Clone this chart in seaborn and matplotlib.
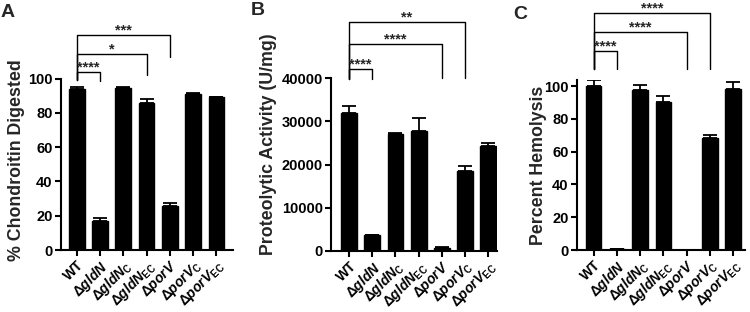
import matplotlib
matplotlib.use("Agg")
import matplotlib.pyplot as plt
import seaborn as sns
import pandas as pd
import numpy as np

# ---------------- data ----------------
strains = ["WT", "dgldN", "dgldN_C", "dgldN_EC", "dporV", "dporV_C", "dporV_EC"]
tick_labels = ["WT",
               r"Δ$\mathit{gldN}$",
               r"Δ$\mathit{gldN}_{\mathrm{C}}$",
               r"Δ$\mathit{gldN}_{\mathrm{EC}}$",
               r"Δ$\mathit{porV}$",
               r"Δ$\mathit{porV}_{\mathrm{C}}$",
               r"Δ$\mathit{porV}_{\mathrm{EC}}$"]

chondroitin = [94, 17, 94.5, 86, 25.5, 91, 89]
chondroitin_err = [0.8, 1.6, 0.3, 2.0, 2.0, 0.3, 0.3]

proteolytic = [31800, 3600, 27100, 27700, 700, 18400, 24300]
proteolytic_err = [1800, 150, 200, 3100, 150, 1300, 700]

hemolysis = [100, 0.6, 97.5, 90.3, 0.2, 68.5, 98.5]
hemolysis_err = [4, 0.3, 3, 3.5, 0.1, 1.5, 4.2]

# significance annotations: (start, end, label, line height, left-leg bottom, right-leg bottom)
sig_A = [(0, 1, "****", 103.6, 99, 98.7),
         (0, 3, "*", 114.3, 99, 102),
         (0, 4, "***", 125.4, 99, 112.4)]
sig_B = [(0, 1, "****", 42080, 39800, 39800),
         (0, 4, "****", 47790, 39800, 39900),
         (0, 5, "**", 52880, 39800, 39900)]
sig_C = [(0, 1, "****", 121.5, 110.2, 110.2),
         (0, 4, "****", 132.7, 110.2, 110.2),
         (0, 5, "****", 144.3, 110.2, 110.2)]

# ---------------- style ----------------
sns.set_theme(style="ticks")
plt.rcParams["font.family"] = ["Liberation Sans", "DejaVu Sans"]
plt.rcParams["font.weight"] = "bold"
plt.rcParams["mathtext.fontset"] = "custom"
plt.rcParams["mathtext.rm"] = "Liberation Sans:bold"
plt.rcParams["mathtext.it"] = "Liberation Sans:italic:bold"
plt.rcParams["mathtext.bf"] = "Liberation Sans:bold"

fig = plt.figure(figsize=(7.5, 3.12), dpi=100)
W, H = 750, 312


def rect(l, r, top, bottom):
    return [l / W, (H - bottom) / H, (r - l) / W, (bottom - top) / H]


def panel(pos, values, errs, ylim, yticks, xlim, ylabel, lab_xy, sig):
    ax = fig.add_axes(rect(*pos))
    df = pd.DataFrame({"strain": strains, "value": values})
    sns.barplot(data=df, x="strain", y="value", color="black", width=0.68,
                saturation=1, errorbar=None, ax=ax, edgecolor="black")
    x = np.arange(len(values))
    ax.errorbar(x, values, yerr=[np.zeros(len(errs)), errs], fmt="none",
                ecolor="black", elinewidth=1.3, capsize=5, capthick=1.3)
    ax.set_ylim(*ylim)
    ax.set_xlim(*xlim)
    ax.set_yticks(yticks)
    ax.set_yticklabels([str(t) for t in yticks], fontsize=10.5, fontweight="bold")
    ax.set_xticks(x)
    ax.set_xticklabels(tick_labels, rotation=45, ha="right",
                       rotation_mode="anchor", fontsize=10, fontweight="bold")
    ax.set_xlabel("")
    ax.set_ylabel(ylabel, fontsize=12.8, fontweight="bold")
    ax.yaxis.set_label_coords(*lab_xy)
    for s in ["top", "right"]:
        ax.spines[s].set_visible(False)
    for s in ["left", "bottom"]:
        ax.spines[s].set_linewidth(1.5)
        ax.spines[s].set_color("black")
    ax.tick_params(axis="both", direction="out", length=4, width=1.5,
                   colors="black", pad=2)
    ax.tick_params(axis="x", pad=1.5)
    for a, b, txt, yl, y1, y2 in sig:
        ax.plot([a, a, b, b], [y1, yl, yl, y2], color="black", lw=1.0,
                clip_on=False)
        ax.annotate(txt, xy=((a + b) / 2, yl), xytext=(0, 0.5),
                    textcoords="offset points", ha="center", va="baseline",
                    fontsize=10.5, fontweight="bold", annotation_clip=False)
    return ax


panel((61, 233, 78.5, 250), chondroitin, chondroitin_err, (0, 100),
      [0, 20, 40, 60, 80, 100], (-0.67, 6.71), "% Chondroitin Digested",
      (-0.209, 0.525), sig_A)
panel((331, 497, 78, 251), proteolytic, proteolytic_err, (0, 40000),
      [0, 10000, 20000, 30000, 40000], (-0.78, 6.38),
      "Proteolytic Activity (U/mg)", (-0.325, 0.62), sig_B)
panel((577, 745, 80, 250), hemolysis, hemolysis_err, (0, 103.7),
      [0, 20, 40, 60, 80, 100], (-0.71, 6.5), "Percent Hemolysis",
      (-0.18, 0.5), sig_C)

fig.text(1 / W, 1 - 4 / H, "A", fontsize=14, fontweight="bold", va="top")
fig.text(251 / W, 1 - 2 / H, "B", fontsize=14, fontweight="bold", va="top")
fig.text(513 / W, 1 - 6 / H, "C", fontsize=14, fontweight="bold", va="top")

fig.savefig("out.png", dpi=100)
